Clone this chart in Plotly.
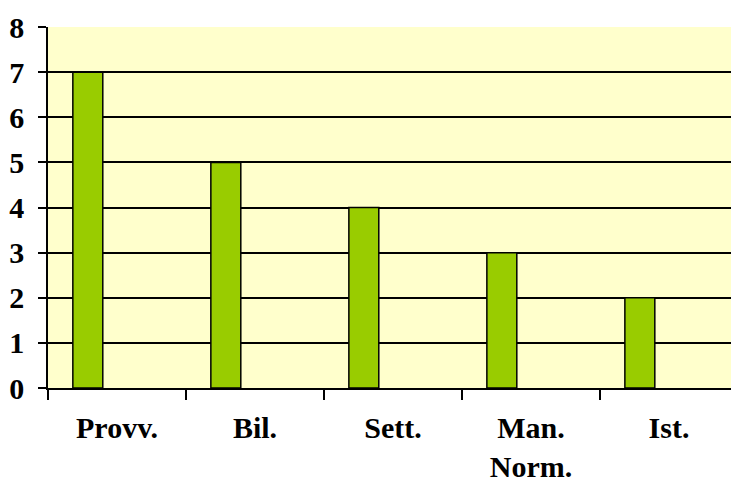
import plotly.graph_objects as go

categories = ["Provv.", "Bil.", "Sett.", "Man.<br>Norm.", "Ist."]
values = [7, 5, 4, 3, 2]
y_ticks = [0, 1, 2, 3, 4, 5, 6, 7, 8]

fig = go.Figure()
fig.add_trace(go.Bar(
    x=categories, y=values,
    offset=-0.32, width=0.217,
    marker=dict(color="#99CC00", line=dict(color="black", width=1.5)),
    hoverinfo="skip",
))

tfont = dict(family="Liberation Serif, Times New Roman, serif", size=30, color="black", weight="bold")

fig.update_layout(
    width=731, height=483,
    margin=dict(l=48, r=0, t=27, b=95, autoexpand=False),
    paper_bgcolor="white",
    plot_bgcolor="#FFFFCC",
    showlegend=False,
    font=tfont,
    xaxis=dict(
        type="category",
        automargin=False,
        range=[-0.5, 4.449],
        tickson="boundaries",
        ticks="outside", ticklen=10, tickwidth=1.5, tickcolor="black",
        showline=True, linecolor="black", linewidth=1.5,
        showgrid=False,
        tickfont=tfont,
        ticklabelstandoff=12,
    ),
    yaxis=dict(
        automargin=False,
        range=[0, 8],
        tickvals=y_ticks,
        ticks="outside", ticklen=8, tickwidth=1.5, tickcolor="black",
        showline=True, linecolor="black", linewidth=1.5,
        showgrid=True, gridcolor="black", gridwidth=1.5,
        zeroline=False,
        tickfont=tfont,
        ticklabelstandoff=8,
    ),
)

fig.write_html("out.html", config={"displayModeBar": False},
               post_script="document.body.style.margin='0';document.body.style.overflow='hidden';")
